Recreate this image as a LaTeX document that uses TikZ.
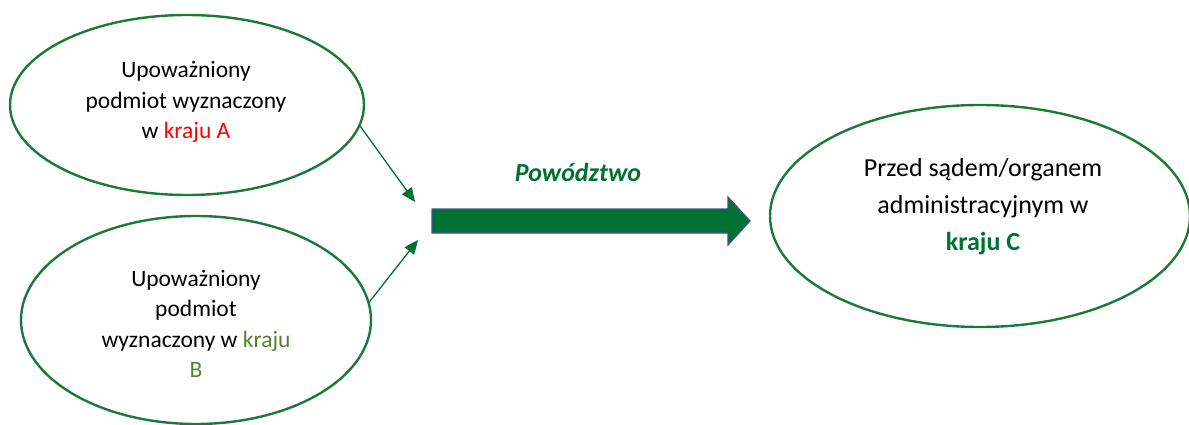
\documentclass[tikz,border=0pt]{standalone}
\usepackage{fontspec}
\setmainfont{Carlito}
\usetikzlibrary{shapes.geometric,arrows.meta}
\definecolor{ringgreen}{HTML}{1B7A36}
\definecolor{darkgreen}{HTML}{007033}
\definecolor{olivegreen}{HTML}{548235}
\definecolor{arrowblue}{HTML}{3A5491}
\tikzset{
  party/.style={ellipse, draw=ringgreen, line width=2.4pt, inner sep=0pt},
  plain/.style={align=center, inner sep=0pt, font=\fontsize{23.5}{30.5}\selectfont},
  courttext/.style={align=center, inner sep=0pt, font=\fontsize{26}{37}\selectfont},
  feed/.style={draw=darkgreen, line width=1.3pt, -{Triangle[length=14pt,width=12pt]}},
}
\begin{document}
\begin{tikzpicture}[x=1pt,y=-1pt]
  \useasboundingbox (0,0) rectangle (1189,425);
  % the three parties
  \node[party, minimum width=354pt, minimum height=180pt] (A) at (187,105) {};
  \node[party, minimum width=350pt, minimum height=208pt] (B) at (196,320) {};
  \node[party, minimum width=420pt, minimum height=222pt] (C) at (980,216) {};
  \node[plain] (tA) at (186,102) {Upoważniony\\podmiot wyznaczony\\w \textcolor{red}{kraju A}};
  \node[plain] (tB) at (196,324) {Upoważniony\\podmiot\\wyznaczony w \textcolor{olivegreen}{kraju}\\\textcolor{olivegreen}{B}};
  \node[courttext] (tC) at (983,207) {Przed sądem/organem\\administracyjnym w\\\textcolor{darkgreen}{\bfseries kraju C}};
  % joining arrows
  \coordinate (ja) at (415,202);
  \coordinate (jb) at (418,240);
  \draw[feed] (A.353) -- (ja);
  \draw[feed] (B.6) -- (jb);
  % action arrow
  \draw[fill=darkgreen, draw=arrowblue, line width=1.2pt]
    (432,209) -- (728,209) -- (728,197) -- (750,221) -- (728,245) -- (728,233) -- (432,233) -- cycle;
  \node[inner sep=0pt, text=darkgreen, font=\fontsize{26}{30}\selectfont\bfseries\itshape] (act) at (578,172) {Powództwo};
\end{tikzpicture}
\end{document}
